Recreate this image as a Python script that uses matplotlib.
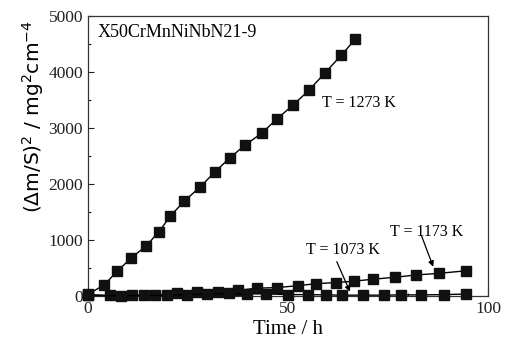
import matplotlib
matplotlib.use("Agg")
import matplotlib.pyplot as plt
from matplotlib.ticker import MultipleLocator

# Data (time in h, (dm/S)^2 in mg^2 cm^-4)
t_1273 = [0, 4.0, 7.3, 10.7, 14.5, 17.7, 20.6, 24.1, 28.1, 31.8, 35.4, 39.3,
          43.5, 47.2, 51.2, 55.3, 59.3, 63.3, 66.8]
y_1273 = [30, 196, 441, 673, 893, 1143, 1429, 1696, 1952, 2220, 2464, 2696,
          2911, 3161, 3405, 3679, 3988, 4298, 4584]

t_1173 = [0, 5.5, 10.9, 16.75, 22.2, 27.2, 32.6, 37.6, 42.2, 47.2, 52.6, 57.0,
          62.0, 66.5, 71.3, 76.8, 82.0, 87.8, 94.5]
y_1173 = [25, 10, 15, 20, 45, 66, 77, 100, 140, 150, 185, 220, 240, 265,
          300, 335, 375, 405, 450]

t_1073 = [0, 8.2, 14.1, 19.7, 24.8, 29.8, 35.25, 39.7, 44.4, 50.1, 55.1, 59.4,
          63.6, 68.8, 74.0, 78.2, 83.2, 89.0, 94.4]
y_1073 = [10, 5, 10, 10, 25, 35, 45, 40, 40, 25, 25, 20, 15, 15, 15, 20, 20, 25, 35]

title_text = "X50CrMnNiNbN21-9"
labels = ["T = 1273 K", "T = 1173 K", "T = 1073 K"]

fig = plt.figure(figsize=(5.10, 3.46), dpi=100)
ax = fig.add_axes([88/510, 1-296/346, 400/510, 280/346])

serif = ["Liberation Serif", "DejaVu Serif"]
for t, y in [(t_1273, y_1273), (t_1173, y_1173), (t_1073, y_1073)]:
    ax.plot(t, y, color="black", lw=1.0, marker="s", ms=6.5,
            mfc="#111111", mec="#111111", clip_on=False, zorder=3)

ax.set_xlim(0, 100)
ax.set_ylim(0, 5000)
ax.xaxis.set_major_locator(MultipleLocator(50))
ax.xaxis.set_minor_locator(MultipleLocator(10))
ax.yaxis.set_major_locator(MultipleLocator(1000))
ax.yaxis.set_minor_locator(MultipleLocator(500))
ax.tick_params(which="both", direction="in", top=False, right=False,
               labelsize=12.5, colors="#222222")
ax.tick_params(which="major", length=4, width=0.8)
ax.tick_params(which="minor", length=2.5, width=0.8)
for lab in ax.get_xticklabels() + ax.get_yticklabels():
    lab.set_family(serif)
for s in ax.spines.values():
    s.set_linewidth(0.9)
    s.set_color("#333333")

ax.set_xlabel("Time / h", family=serif, fontsize=15, labelpad=2)
ax.set_ylabel(r"$(\Delta$m/S$)^2$ / mg$^2$cm$^{-4}$", family="DejaVu Sans",
              fontsize=14.5)
ax.yaxis.set_label_coords(-0.105, 0.64)

ax.text(2.5, 4700, title_text, family=serif, fontsize=13, va="center", ha="left")
ax.text(58.5, 3446, labels[0], family=serif, fontsize=11.5, va="center", ha="left")
ax.text(75.5, 1150, labels[1], family=serif, fontsize=11.5, va="center", ha="left")
ax.text(54.5, 820, labels[2], family=serif, fontsize=11.5, va="center", ha="left")
ax.annotate("", xy=(86.3, 523), xytext=(83.4, 1071),
            arrowprops=dict(arrowstyle="-|>", color="black", lw=0.9,
                            mutation_scale=8, shrinkA=0, shrinkB=0))
ax.annotate("", xy=(65.5, 77), xytext=(62.2, 612),
            arrowprops=dict(arrowstyle="-|>", color="black", lw=0.9,
                            mutation_scale=8, shrinkA=0, shrinkB=0))

fig.savefig("out.png", dpi=100)
